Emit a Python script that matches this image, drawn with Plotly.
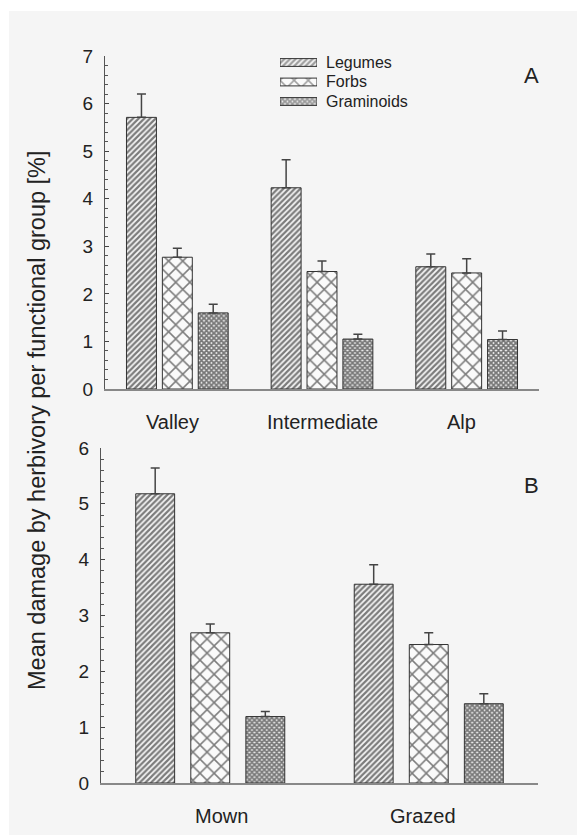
import plotly.graph_objects as go

# Panel A: damage by site
sites = ["Valley", "Intermediate", "Alp"]
legumes_a = [5.71, 4.23, 2.57]
legumes_a_se = [0.49, 0.59, 0.27]
forbs_a = [2.77, 2.47, 2.44]
forbs_a_se = [0.19, 0.22, 0.30]
graminoids_a = [1.60, 1.05, 1.04]
graminoids_a_se = [0.18, 0.10, 0.18]

# Panel B: damage by management
management = ["Mown", "Grazed"]
legumes_b = [5.18, 3.56]
legumes_b_se = [0.46, 0.35]
forbs_b = [2.69, 2.48]
forbs_b_se = [0.16, 0.21]
graminoids_b = [1.19, 1.42]
graminoids_b_se = [0.09, 0.18]

groups = ["Legumes", "Forbs", "Graminoids"]
W, H = 577, 835
FONT = "Liberation Sans, Arial, sans-serif"
INK = "#222222"
BG = "#f5f5f5"

patterns = {
    "Legumes": dict(shape="/", size=4, solidity=0.55, fgcolor="#000000", bgcolor="#f7f7f7"),
    "Forbs": dict(shape="x", size=10, solidity=0.28, fgcolor="#000000", bgcolor="#fafafa"),
    "Graminoids": dict(shape="x", size=3.5, solidity=0.75, fgcolor="#000000", bgcolor="#eeeeee"),
}

def px_x(p):
    return p / W

def px_y(p):
    return 1 - p / H

fig = go.Figure()

panel_a = [(legumes_a, legumes_a_se), (forbs_a, forbs_a_se), (graminoids_a, graminoids_a_se)]
panel_b = [(legumes_b, legumes_b_se), (forbs_b, forbs_b_se), (graminoids_b, graminoids_b_se)]

# bar width / offsets (in category units) for each panel
layout_a = dict(width=0.207, offsets=[-0.3515, -0.1035, 0.1445])
layout_b = dict(width=0.178, offsets=[-0.341, -0.089, 0.163])

def bar_marker(g):
    return dict(color=patterns[g]["bgcolor"], line=dict(color="#333333", width=1),
                pattern=patterns[g])

for i, g in enumerate(groups):
    vals, se = panel_a[i]
    fig.add_trace(go.Bar(
        x=sites, y=vals, name=g, showlegend=False,
        width=layout_a["width"], offset=layout_a["offsets"][i],
        marker=bar_marker(g),
        error_y=dict(type="data", symmetric=False, array=se, arrayminus=[0] * len(se),
                     color="#444444", thickness=1.5, width=4.5),
        xaxis="x", yaxis="y",
    ))
for i, g in enumerate(groups):
    vals, se = panel_b[i]
    fig.add_trace(go.Bar(
        x=management, y=vals, name=g, showlegend=False,
        width=layout_b["width"], offset=layout_b["offsets"][i],
        marker=bar_marker(g),
        error_y=dict(type="data", symmetric=False, array=se, arrayminus=[0] * len(se),
                     color="#444444", thickness=1.5, width=4.5),
        xaxis="x2", yaxis="y2",
    ))

# legend key: one wide patterned swatch per functional group
fig.add_trace(go.Bar(
    y=groups, x=[1] * len(groups), orientation="h", width=0.4, showlegend=False,
    hoverinfo="skip",
    marker=dict(color=[patterns[g]["bgcolor"] for g in groups],
                line=dict(color="#333333", width=1),
                pattern=dict(shape=[patterns[g]["shape"] for g in groups],
                             size=[patterns[g]["size"] for g in groups],
                             solidity=[patterns[g]["solidity"] for g in groups],
                             fgcolor="#000000")),
    xaxis="x3", yaxis="y3",
))

yaxis_common = dict(
    showgrid=False, zeroline=False, showline=True, linecolor="#555555", linewidth=1.2,
    ticks="inside", ticklen=4, tickcolor="#444444", tickwidth=1,
    minor=dict(dtick=0.2, ticks="inside", ticklen=2.5, tickcolor="#555555", tickwidth=1),
    dtick=1, tickfont=dict(family=FONT, size=19, color=INK), ticklabelstandoff=7,
)
xaxis_common = dict(
    showgrid=False, zeroline=False, showline=True, linecolor="#888888", linewidth=1.5,
    ticks="", showticklabels=False,
)
hidden = dict(visible=False, showgrid=False, zeroline=False, fixedrange=True)

fig.update_layout(
    width=W, height=H,
    margin=dict(l=0, r=0, t=0, b=0, autoexpand=False),
    paper_bgcolor=BG, plot_bgcolor="rgba(0,0,0,0)",
    barmode="overlay", showlegend=False,
    font=dict(family=FONT, color=INK),
    xaxis=dict(domain=[px_x(105), px_x(539)], anchor="y", range=[-0.5, 2.5], **xaxis_common),
    yaxis=dict(domain=[px_y(389), px_y(56)], anchor="x", range=[0, 7], **yaxis_common),
    xaxis2=dict(domain=[px_x(101), px_x(538)], anchor="y2", range=[-0.5, 1.5], **xaxis_common),
    yaxis2=dict(domain=[px_y(783), px_y(448)], anchor="x2", range=[0, 6], **yaxis_common),
    xaxis3=dict(domain=[px_x(280), px_x(317)], anchor="y3", range=[0, 1], **hidden),
    yaxis3=dict(domain=[px_y(112), px_y(52)], anchor="x3", autorange="reversed",
                type="category", **hidden),
)

# category labels under each panel
for cat, dx in zip(sites, [-5, 0, -5]):
    fig.add_annotation(text=cat, x=cat, y=0, xref="x", yref="y", yshift=-33, xshift=dx,
                       showarrow=False, font=dict(family=FONT, size=20, color=INK))
for cat, dx in zip(management, [11, -6]):
    fig.add_annotation(text=cat, x=cat, y=0, xref="x2", yref="y2", yshift=-33, xshift=dx,
                       showarrow=False, font=dict(family=FONT, size=20, color=INK))

# legend labels
for g in groups:
    fig.add_annotation(text=g, x=0, y=g, xref="x3 domain", yref="y3", xshift=44,
                       xanchor="left", yanchor="middle", showarrow=False,
                       font=dict(family=FONT, size=16, color=INK))

# white frame strips along the top and left edges
fig.add_shape(type="rect", xref="paper", yref="paper", x0=0, x1=px_x(9), y0=0, y1=1,
              fillcolor="white", line_width=0, layer="below")
fig.add_shape(type="rect", xref="paper", yref="paper", x0=0, x1=1, y0=px_y(11), y1=1,
              fillcolor="white", line_width=0, layer="below")

fig.add_annotation(text="A", x=px_x(531), y=px_y(76), xref="paper", yref="paper",
                   xanchor="center", yanchor="middle",
                   showarrow=False, font=dict(family=FONT, size=22, color=INK))
fig.add_annotation(text="B", x=px_x(531), y=px_y(485), xref="paper", yref="paper",
                   xanchor="center", yanchor="middle",
                   showarrow=False, font=dict(family=FONT, size=22, color=INK))
fig.add_annotation(text="Mean damage by herbivory per functional group [%]",
                   x=px_x(37), y=px_y(420), xref="paper", yref="paper", textangle=-90,
                   xanchor="center", yanchor="middle",
                   showarrow=False, font=dict(family=FONT, size=23.5, color=INK))

fig.write_html("out.html")
